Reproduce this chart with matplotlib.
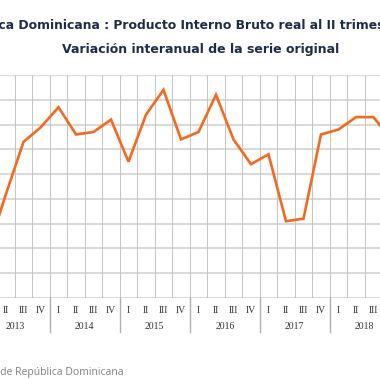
import numpy as np
import matplotlib
matplotlib.use("Agg")
import matplotlib.pyplot as plt

# year-on-year variation of real GDP, by quarter (%)
years = ["2013", "2014", "2015", "2016", "2017", "2018"]
quarters = ["I", "II", "III", "IV"]
growth = [2.0, 4.2, 6.3, 6.9,
          7.7, 6.6, 6.7, 7.2,
          5.5, 7.4, 8.4, 6.4,
          6.7, 8.2, 6.4, 5.4,
          5.8, 3.1, 3.2, 6.6,
          6.8, 7.3, 7.3, 6.4]

title1 = "República Dominicana : Producto Interno Bruto real al II trimestre 2018"
title2 = "Variación interanual de la serie original"
source = "Fuente: Banco Central de República Dominicana"

n = len(growth)
x = np.arange(n)

fig = plt.figure(figsize=(3.8, 3.8), dpi=100)
# plot area runs past both edges of the picture (the reference is a crop)
ax = fig.add_axes([-20.25 / 380, 82 / 380, 420 / 380, 223 / 380])

ax.set_xlim(-0.5, n - 0.5)
ax.set_ylim(0, 9)

for yv in range(0, 10):
    ax.axhline(yv, color="#d6d6d6", lw=1.3, zorder=1)
for b in np.arange(-0.5, n, 1.0):
    ax.axvline(b, color="#c4c4c4", lw=0.7, zorder=1)

ax.plot(x, growth, color="#f5691f", lw=1.9, zorder=3, solid_joinstyle="miter")

for s in ax.spines.values():
    s.set_visible(False)
ax.set_xticks([])
ax.set_yticks([])

trans = ax.get_xaxis_transform()
for i in range(n):
    ax.text(x[i], -0.054, quarters[i % 4], transform=trans, ha="center", va="center",
            family="Liberation Serif", fontsize=7, color="#333333")
for k, yr in enumerate(years):
    ax.text(4 * k + 1.5, -0.13, yr, transform=trans, ha="center", va="center",
            family="Liberation Serif", fontsize=7, color="#333333")
    sep = 4 * k - 0.5
    ax.plot([sep, sep], [0, -0.152], transform=trans, color="#b0b0b0",
            lw=1.0, clip_on=False)
ax.plot([n - 0.5, n - 0.5], [0, -0.152], transform=trans, color="#b0b0b0",
        lw=1.0, clip_on=False)

fig.text(0.512, 1 - 25 / 380, title1, ha="center", va="center",
         fontsize=8.9, fontweight="bold", color="#1f2b4a", family="DejaVu Sans")
fig.text(0.528, 1 - 50 / 380, title2, ha="center", va="center",
         fontsize=9, fontweight="bold", color="#1f2b4a", family="DejaVu Sans")
fig.text(-0.29, 1 - 372 / 380, source, ha="left", va="center",
         fontsize=7.5, color="#7f7f7f", family="Open Sans")

fig.savefig("out.png", dpi=100)
